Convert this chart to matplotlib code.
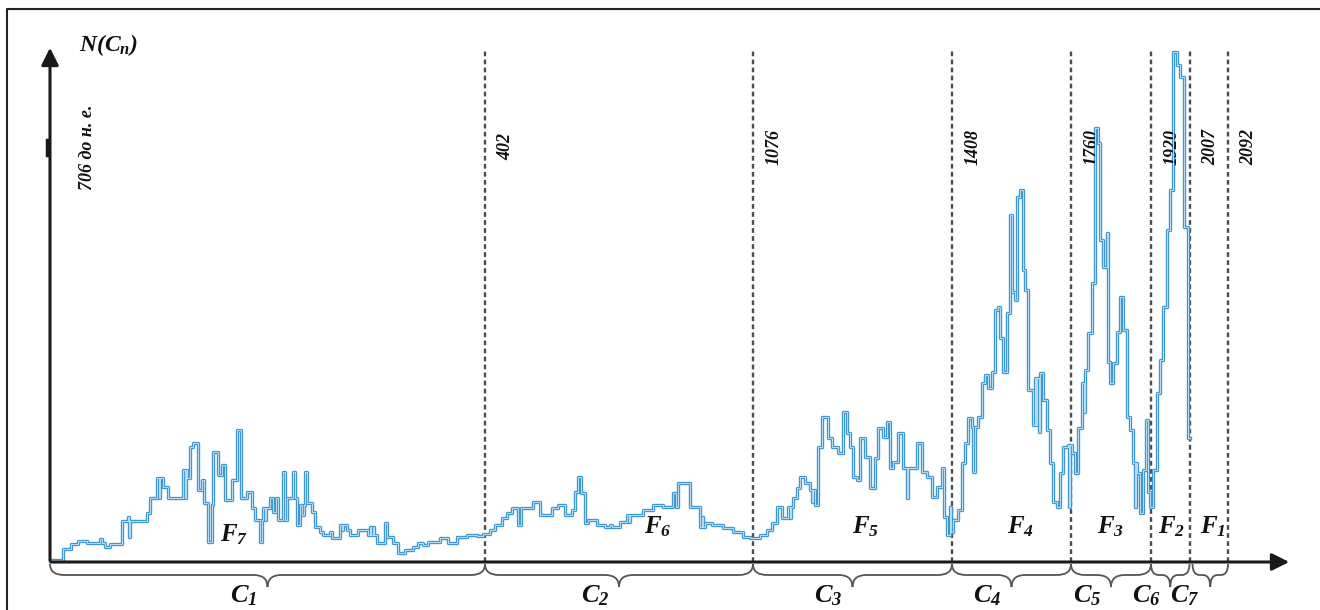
import matplotlib.pyplot as plt
from matplotlib.path import Path
from matplotlib.patches import PathPatch

plt.rcParams['mathtext.fontset'] = 'custom'
plt.rcParams['mathtext.it'] = 'Liberation Serif:italic:bold'
plt.rcParams['mathtext.rm'] = 'Liberation Serif:italic:bold'
plt.rcParams['mathtext.bf'] = 'Liberation Serif:italic:bold'

# boundaries on the (non-linear) time scale and their year labels
bounds = [50, 485, 753, 952, 1071, 1151, 1189.5, 1228]
years = ['706 до н. е.', '402', '1076', '1408', '1760', '1920', '2007', '2092']
c_names = ['$C_1$', '$C_2$', '$C_3$', '$C_4$', '$C_5$', '$C_6$', '$C_7$']
f_names = ['$F_7$', '$F_6$', '$F_5$', '$F_4$', '$F_3$', '$F_2$', '$F_1$']

# step series N(C_n): position on the scale, value
pos = [50, 53, 63, 71, 78, 87, 100, 102, 105, 110, 122, 128, 129, 130, 147, 150, 157, 159, 160, 163,
       168, 183, 185, 186, 187, 190, 193, 198, 202, 204, 208, 212, 213, 218, 222, 225, 232, 237, 241, 247,
       252, 255, 260, 262, 263, 265, 266, 270, 273, 276, 278, 283, 285, 287, 293, 295, 297, 300, 302, 304,
       305, 307, 312, 315, 320, 323, 330, 332, 340, 342, 343, 347, 350, 358, 368, 370, 371, 373, 374, 377,
       385, 387, 393, 398, 405, 413, 418, 423, 428, 440, 448, 457, 467, 477, 483, 490, 495, 502, 507, 512,
       518, 521, 533, 540, 552, 558, 565, 572, 575, 578, 581, 585, 588, 597, 605, 610, 612, 620, 627, 629,
       630, 643, 653, 663, 673, 676, 678, 690, 700, 702, 703, 705, 712, 723, 733, 743, 750, 760, 767, 772,
       777, 782, 788, 790, 791, 793, 797, 800, 805, 810, 812, 813, 815, 818, 822, 828, 832, 838, 843, 847,
       850, 853, 857, 860, 865, 870, 875, 878, 883, 887, 890, 893, 898, 903, 907, 908, 917, 922, 927, 932,
       937, 942, 944, 947, 950, 951, 953, 958, 962, 965, 968, 972, 973, 975, 978, 982, 985, 988, 992, 995,
       998, 1000, 1003, 1007, 1010, 1012, 1015, 1017, 1020, 1023, 1025, 1028, 1033, 1035, 1036, 1037, 1039, 1040, 1043, 1047,
       1050, 1053, 1057, 1060, 1063, 1068, 1069, 1070, 1072, 1075, 1078, 1082, 1084, 1085, 1088, 1092, 1095, 1098, 1100, 1103,
       1107, 1108, 1110, 1113, 1117, 1120, 1123, 1127, 1130, 1133, 1135, 1136, 1137, 1140, 1143, 1146, 1148, 1150, 1153, 1157,
       1160, 1163, 1167, 1170, 1173, 1177, 1180, 1184, 1188, 1190]
cnt = [2, 2, 13, 18, 21, 19, 23, 19, 15, 18, 41, 45, 25, 41, 49, 64, 84, 64, 84, 75,
       64, 92, 64, 92, 84, 115, 119, 72, 82, 59, 20, 57, 110, 87, 97, 62, 82, 132, 64, 70,
       54, 42, 20, 42, 54, 42, 54, 64, 50, 64, 42, 90, 42, 64, 90, 64, 37, 57, 47, 57,
       90, 59, 50, 35, 30, 27, 30, 24, 37, 32, 37, 32, 27, 32, 27, 35, 27, 35, 27, 19,
       39, 25, 19, 9, 12, 15, 19, 17, 20, 24, 19, 25, 27, 26, 28, 32, 37, 44, 49, 54,
       37, 54, 60, 47, 54, 57, 47, 52, 70, 85, 69, 39, 42, 37, 35, 37, 35, 40, 47, 40,
       47, 52, 57, 55, 69, 55, 79, 55, 35, 45, 35, 39, 37, 34, 30, 25, 24, 27, 32, 39,
       55, 44, 55, 44, 55, 64, 74, 85, 79, 72, 60, 72, 57, 115, 145, 124, 115, 109, 150, 129,
       115, 85, 82, 124, 105, 74, 104, 134, 125, 140, 94, 100, 129, 94, 64, 94, 119, 90, 85, 65,
       75, 94, 45, 27, 55, 30, 42, 52, 99, 119, 144, 135, 90, 135, 145, 179, 187, 174, 190, 252,
       255, 224, 190, 249, 347, 270, 262, 365, 372, 292, 272, 172, 137, 184, 137, 184, 130, 189, 162, 132,
       99, 60, 55, 89, 115, 117, 55, 117, 109, 89, 134, 179, 150, 192, 229, 279, 434, 419, 322, 295,
       329, 200, 179, 199, 230, 265, 232, 145, 132, 99, 55, 99, 89, 49, 92, 142, 70, 55, 92, 169,
       202, 255, 332, 372, 510, 497, 485, 335, 124, 124]


def brace(ax, x0, x1, yt=-2, ym=-13, yb=-25):
    r = min(14, (x1 - x0) / 5)
    xm = (x0 + x1) / 2
    verts = [(x0, yt), (x0, ym), (x0 + r, ym), (xm - r, ym), (xm, ym), (xm, yb),
             (xm, ym), (xm + r, ym), (x1 - r, ym), (x1, ym), (x1, yt)]
    codes = [Path.MOVETO, Path.CURVE3, Path.CURVE3, Path.LINETO, Path.CURVE3, Path.CURVE3,
             Path.CURVE3, Path.CURVE3, Path.LINETO, Path.CURVE3, Path.CURVE3]
    ax.add_patch(PathPatch(Path(verts, codes), fc='none', ec='#555555', lw=1.3))


fig = plt.figure(figsize=(13.2, 6.1), dpi=100)
ax = fig.add_axes([0, 0, 1, 1])
ax.set_xlim(0, 1320)
ax.set_ylim(-48, 562)
ax.axis('off')

# frame of the scanned figure
ax.plot([7, 7, 1322], [-48, 553, 553], color='#222222', lw=1.5, clip_on=False)

# period boundaries
ax.vlines(bounds[1:], 0, 512, colors='#4d4d4d', linestyles=(0, (2.0, 1.4)), lw=1.7)

# series: blue outline with light core, like the scanned double line
ax.step(pos, cnt, where='post', color='#3a95d2', lw=2.4, zorder=3)
ax.step(pos, cnt, where='post', color='#b5daf2', lw=0.8, zorder=4)

# axes with arrows
ax.annotate('', xy=(1292, 0), xytext=(48, 0),
            arrowprops=dict(arrowstyle='-|>', color='#1a1a1a', lw=2.2, mutation_scale=26), zorder=5)
ax.annotate('', xy=(50, 517), xytext=(50, -1),
            arrowprops=dict(arrowstyle='-|>', color='#1a1a1a', lw=2.2, mutation_scale=26), zorder=5)
ax.plot([47, 47], [407, 422], color='#1a1a1a', lw=2.5)
ax.text(79, 517, '$N(C_n)$', fontsize=17, ha='left', va='center', color='#111111')

serif = dict(family='Liberation Serif', weight='bold', style='italic', color='#111111')
for b, y in zip(bounds, years):
    dx = 38 if b == bounds[0] else 21
    ax.text(b + dx, 415, y, rotation=90, ha='center', va='center', fontsize=13, **serif)

for i, name in enumerate(c_names):
    x0 = bounds[i] + (3 if i == 6 else 0)
    brace(ax, x0, bounds[i + 1])
    ax.text((bounds[i] + bounds[i + 1]) / 2 - 24, -20, name, ha='center', va='top',
            fontsize=19, color='#111111')

f_x = [234, 658, 866, 1020, 1110, 1172, 1213]
f_y = [27, 35, 35, 35, 35, 35, 35]
for x, y, name in zip(f_x, f_y, f_names):
    ax.text(x, y, name, ha='center', va='center', fontsize=18, color='#111111', zorder=6)

fig.savefig('out.png', dpi=100)
